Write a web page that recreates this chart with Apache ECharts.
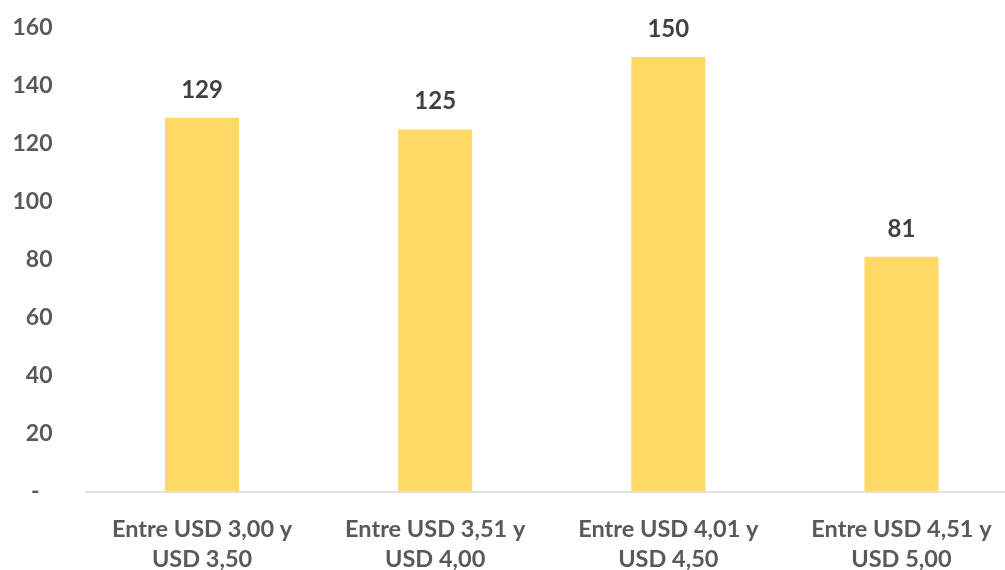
<!DOCTYPE html>
<html><head><meta charset="utf-8">
<script src="https://cdn.jsdelivr.net/npm/echarts@6/dist/echarts.min.js"></script>
<style>html,body{margin:0;padding:0;background:#fff}#c{width:1005px;height:570px}</style>
</head><body><div id="c"></div>
<script>
const categories = ['Entre USD 3,00 y\nUSD 3,50', 'Entre USD 3,51 y\nUSD 4,00', 'Entre USD 4,01 y\nUSD 4,50', 'Entre USD 4,51 y\nUSD 5,00'];
const values = [129, 125, 150, 81];
const yTicks = { min: 0, max: 160, interval: 20 };

const chart = echarts.init(document.getElementById('c'), null, { renderer: 'canvas' });
chart.setOption({
  animation: false,
  grid: { left: 85.5, right: -13, top: 28, bottom: 78.5, containLabel: false, outerBoundsMode: 'none' },
  xAxis: {
    type: 'category', data: categories,
    axisLine: { lineStyle: { color: '#d9d9d9', width: 1.5 } },
    axisTick: { show: false },
    axisLabel: { color: '#595959', fontFamily: 'Lato', fontWeight: 'bold', fontSize: 23.5, lineHeight: 30, margin: 23, interval: 0 }
  },
  yAxis: {
    type: 'value', min: yTicks.min, max: yTicks.max, interval: yTicks.interval,
    axisLine: { show: false }, axisTick: { show: false }, splitLine: { show: false },
    axisLabel: {
      color: '#595959', fontFamily: 'Lato', fontWeight: 'bold', fontSize: 23, margin: 33,
      formatter: v => v === 0 ? '{d|-}' : String(v),
      rich: { d: { color: '#595959', fontFamily: 'Lato', fontWeight: 'bold', fontSize: 23, padding: [0, 13, 0, 0] } }
    }
  },
  series: [{
    type: 'bar', data: values, barWidth: 74,
    itemStyle: { color: '#FFD966' },
    label: { show: true, position: 'top', distance: 16, color: '#404040', fontFamily: 'Lato', fontWeight: 'bold', fontSize: 24 }
  }]
});
</script></body></html>
